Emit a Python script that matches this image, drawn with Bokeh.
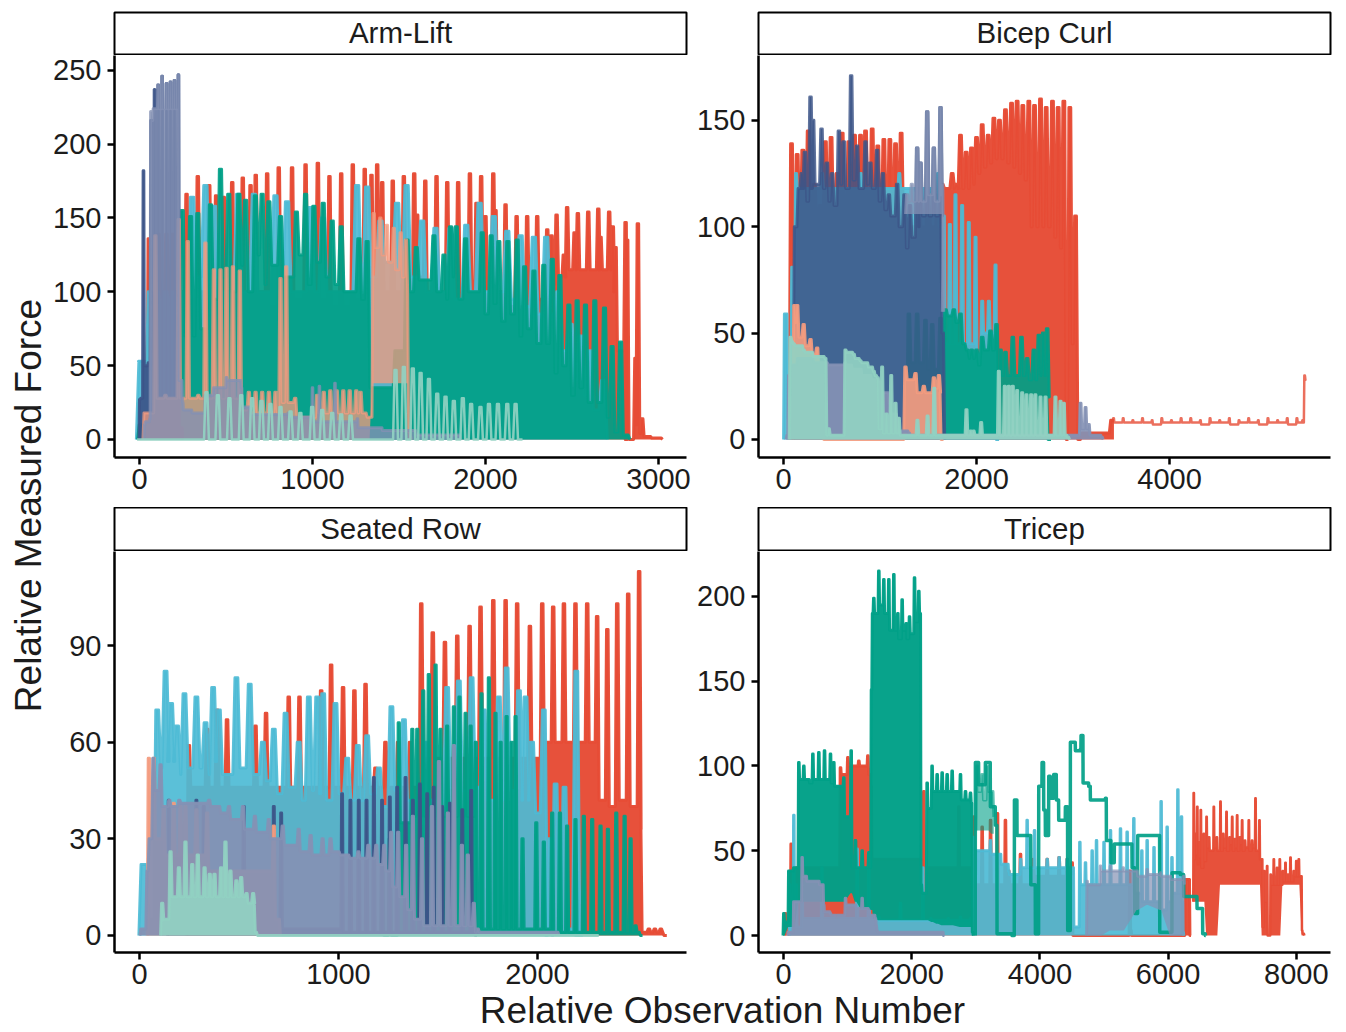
from math import pi
from bokeh.embed import file_html
from bokeh.resources import INLINE
from bokeh.plotting import figure
from bokeh.layouts import row, column
from bokeh.models import Range1d, FixedTicker
from bokeh.core.properties import value

RED, CYAN, GREEN, NAVY, SALMON, LAV, MINT = "#E64B35", "#4DBBD5", "#00A087", "#3C5488", "#F39B7F", "#8491B4", "#91D1C2"
ALPHA = 0.92
RED_ALPHA = 0.97
FONT = "Liberation Sans"
INK = "#1c1c1c"

panel_titles = ["Arm-Lift", "Bicep Curl", "Seated Row", "Tricep"]
x_title = "Relative Observation Number"
y_title = "Relative Measured Force"

# ---------------- Arm-Lift
arm_red_x = [54,110,156,190,272,337,403,443,487,536,597,642,672,738,805,882,960,1031,1098,1166,1233,1302,1341,1374,1403,1464,1528,1588,1605,1652,1717,1779,1842,1910,1948,1975,2000,2045,2058,2116,2180,2241,2299,2357,2382,2411,2453,2472,2515,2534,2594,2652,2665,2715,2736,2752,2810,2819,2867,2881,2906,2950,3012]
arm_red_tip = [136,139,139,139,166,178,172,165,164,174,177,172,179,180,184,184,186,187,178,180,186,183,179,186,174,175,178,180,152,175,178,174,174,180,160,178,151,180,155,159,151,151,151,142,138,152,125,157,140,153,154,156,137,154,144,130,147,135,55,146,14,2,1]
arm_red_floor = [60,100,100,100,95,100,100,95,100,95,100,95,100,90,100,95,100,95,90,90,95,100,95,95,100,100,100,100,110,100,100,95,100,100,110,100,100,110,100,90,90,95,95,105,105,110,110,115,115,115,115,115,115,115,100,60,0,0,10,4,2,1,0]
arm_cyan_x = [6,18,60,100,150,195,235,304,381,430,570,661,786,853,988,1060,1258,1316,1393,1489,1544,1634,1711,1798,1889,1966,2048,2126,2203,2280,2351,2420,2492,2549,2600,2680]
arm_cyan_tip = [53,53,100,100,100,100,100,164,172,158,166,166,165,161,157,150,172,171,148,160,172,148,143,143,145,160,151,141,138,137,137,100,78,70,60,40]
arm_cyan_floor = [53,20,85,85,85,85,60,110,100,100,100,100,100,100,100,100,100,110,120,110,110,100,100,95,100,100,100,95,90,85,85,60,40,30,20,0]
arm_green_x = [5,15,247,295,337,410,468,516,574,613,670,709,748,815,907,960,1008,1062,1114,1166,1268,1316,1400,1460,1547,1600,1702,1760,1798,1831,1885,1981,2033,2077,2129,2183,2226,2280,2337,2386,2430,2482,2530,2578,2632,2688,2732,2781,2819]
arm_green_tip = [10,4,155,151,153,159,183,166,166,162,165,166,161,151,154,166,158,160,148,144,136,134,35,35,135,130,138,125,144,144,136,140,138,134,134,135,117,114,118,122,111,91,94,91,94,89,63,66,3]
arm_green_floor = [4,4,70,70,75,95,110,100,118,100,125,105,118,110,125,105,120,110,105,100,95,35,35,60,100,108,100,95,110,95,100,85,92,80,85,70,75,65,65,45,50,30,35,25,25,15,5,3,0]
arm_navy_x = [2,23,45,67,87,108,131,156,179,202,225,245]
arm_navy_tip = [27,182,50,216,237,240,246,241,242,243,247,8]
arm_navy_floor = [28,50,52,10,10,10,10,10,10,10,8,0]
arm_salmon_x = [30,92,150,227,279,340,381,430,468,503,540,580,632,671,709,748,786,815,848,900,1027,1065,1103,1140,1178,1215,1253,1278,1320,1354,1392,1430,1470,1510,1540,1560]
arm_salmon_tip = [18,138,30,149,134,30,133,115,115,116,117,114,32,32,32,32,32,109,117,28,30,32,33,33,33,33,33,32,15,153,150,145,143,140,135,5]
arm_salmon_floor = [18,28,28,28,28,28,28,28,28,28,28,20,18,18,18,18,18,25,25,15,18,18,18,18,18,18,18,18,15,130,125,120,115,110,100,0]
arm_salmon_base = [0,0,0,0,0,0,0,0,0,0,0,0,0,0,0,0,0,0,0,0,0,0,0,0,0,0,0,0,0,38,38,38,38,38,38,0]
arm_lav_x = [30,60,75,108,131,156,179,202,225,250,300,381,430,503,590,640,790,860,1000,1040,1130,1260,1400,1600,1850]
arm_lav_tip = [10,14,216,240,246,241,242,243,247,25,20,30,35,42,35,20,17,18,35,36,38,14,8,4,3]
arm_lav_floor = [12,222,224,224,224,224,224,224,40,20,18,30,35,40,22,17,17,15,12,12,12,8,6,3,0]
arm_mint_x = [0,387,453,520,588,651,705,757,815,873,930,998,1056,1114,1166,1220,1480,1528,1580,1625,1673,1721,1769,1817,1869,1917,1971,2020,2072,2126,2174,2200]
arm_mint_tip = [0,32,30,28,30,28,26,24,22,19,18,22,20,18,17,16,47,49,48,45,41,31,29,26,28,24,22,24,24,24,24,0]
arm_mint_floor = [0,0,0,0,0,0,0,0,0,0,0,0,0,0,0,0,0,0,0,0,0,0,0,0,0,0,0,0,0,0,0,0]

# ---------------- Bicep Curl
bic_red_x = [83,142,200,256,320,380,434,493,556,608,677,736,798,850,919,977,1040,1102,1161,1219,1280,1400,1500,1600,1644,1696,1748,1793,1834,1893,1948,2000,2059,2121,2180,2238,2300,2363,2421,2480,2542,2601,2663,2722,2787,2846,2905,2967,3026,3100,3300,3400]
bic_red_tip = [139,134,136,145,120,110,140,142,125,144,140,143,143,145,146,138,141,141,139,144,115,115,115,115,120,118,125,120,143,135,137,142,148,143,151,150,155,158,159,157,159,157,160,156,159,156,159,156,105,3,3,9]
bic_red_floor = [80,100,100,100,100,100,100,100,100,100,100,100,100,100,100,100,100,100,100,100,100,100,100,118,118,118,118,118,118,118,120,125,128,130,132,132,130,128,125,122,100,100,100,100,95,90,0,45,0,3,3,9]
bic_tail_x = [3420,3520,3620,3720,3820,3920,4020,4120,4220,4320,4420,4520,4620,4720,4820,4920,5020,5120,5220,5320,5380,5400,5410]
bic_tail_tip = [10,10,9,10,9,10,9,10,10,9,10,9,10,9,10,9,10,9,10,10,9,30,28]
bic_tail_floor = [8,8,8,8,7,8,8,8,8,7,8,8,7,8,8,7,8,8,7,8,8,28,28]
bic_cyan_x = [15,30,90,130,400,800,1200,1600,1661,1724,1782,1851,1920,1990,2059,2128,2197,2220]
bic_cyan_tip = [59,59,81,125,125,125,125,125,105,101,115,110,102,95,65,65,82,0]
bic_cyan_floor = [59,10,60,118,118,118,118,100,45,45,45,45,45,40,50,50,0,0]
bic_green_x = [1299,1385,1471,1541,1627,1679,1765,1834,1903,1950,2000,2059,2145,2207,2249,2300,2376,2466,2525,2594,2646,2691,2732,2750]
bic_green_tip = [59,59,56,54,57,61,61,59,42,42,42,48,51,54,42,41,48,48,38,42,49,50,52,0]
bic_green_floor = [36,36,33,33,40,58,55,45,38,38,35,42,42,25,30,30,30,30,28,28,30,30,20,0]
bic_navy_x = [120,159,190,222,280,307,394,450,504,574,625,701,763,850,900,971,1030,1092,1178,1254,1310,1385,1420,1489,1558,1627,1650]
bic_navy_tip = [100,118,125,135,161,150,146,130,125,145,140,171,138,140,130,136,125,115,120,115,110,137,130,154,137,156,50]
bic_navy_floor = [100,118,118,112,118,120,118,112,110,120,118,122,118,120,118,112,108,105,100,90,95,100,105,105,105,105,0]
bic_salmon_x = [113,142,209,280,349,400,1264,1368,1454,1558,1610,1640]
bic_salmon_tip = [63,63,54,47,43,30,34,31,25,29,30,0]
bic_salmon_floor = [55,48,44,40,30,0,28,22,22,24,22,0]
bic_lav_x = [40,70,150,300,450,640,700,800,900,1000,1100,1180,1300,2000,3000,3078,3130,3164,3300]
bic_lav_tip = [2,30,38,38,36,36,35,33,30,27,17,10,3,2,2,17,15,7,1]
bic_lav_floor = [30,35,38,36,35,35,33,30,28,22,12,4,2,2,2,5,5,2,0]
bic_lav_high_x = [1280,1330,1385,1420,1489,1558,1627,1645]
bic_lav_high_tip = [115,120,137,130,154,137,156,120]
bic_lav_high_floor = [112,112,112,112,115,112,115,60]
bic_lav_high_base = [106,106,106,106,106,106,106,60]
bic_mint_x = [73,107,211,314,435,470,600,642,729,798,867,936,977,1022,1067,1116,1161,1195,1388,1493,1562,1896,1940,1970,2048,2231,2293,2335,2376,2421,2473,2518,2566,2610,2663,2715,2818,2870,2905,2950]
bic_mint_tip = [48,45,42,39,38,5,2,42,40,37,36,32,29,34,12,30,17,10,9,11,24,14,4,4,8,32,25,25,25,23,22,21,21,21,20,20,20,18,17,1]
bic_mint_floor = [46,44,41,39,2,2,2,41,38,36,34,30,5,3,3,3,3,2,2,2,2,2,2,2,2,2,2,2,2,2,2,2,2,2,2,2,2,2,2,0]

# ---------------- Seated Row
sea_red_x = [248,340,390,440,583,636,750,804,913,963,1023,1080,1136,1186,1236,1300,1360,1416,1474,1535,1597,1659,1714,1778,1840,1898,1962,2024,2079,2133,2191,2250,2300,2351,2401,2456,2511,2530,2560,2590,2620,2640]
sea_red_tip = [59,64,70,67,65,69,74,74,76,84,77,76,78,52,60,60,60,103,94,91,93,96,102,104,104,103,96,103,102,103,103,103,99,95,103,106,113,1,2,2,2,0]
sea_red_floor = [46,46,46,46,46,46,46,46,46,46,46,46,46,46,46,46,46,55,55,55,55,55,55,55,55,55,55,60,60,60,60,60,42,40,42,40,33,1,1,1,1,0]
sea_cyan_x = [15,30,89,131,159,189,226,286,332,370,399,487,554,620,675,734,800,851,893,923,985,1044,1097,1144,1203,1266,1329,1440,1546,1605,1669,1730,1806,1845,1907,1940,1973,2032,2060,2091,2136,2195,2210]
sea_cyan_tip = [22,22,70,82,72,65,75,74,66,77,70,80,78,60,64,69,60,74,74,75,72,55,59,62,52,71,67,60,77,79,80,70,74,83,76,74,60,70,30,47,46,82,0]
sea_cyan_floor = [22,5,52,54,54,50,52,52,50,54,50,52,50,48,44,46,42,45,44,42,44,42,42,44,40,45,42,42,46,45,46,42,42,45,42,42,38,0,0,2,2,0,0]
sea_green_x = [1220,1258,1303,1371,1396,1426,1454,1488,1513,1546,1580,1608,1639,1664,1690,1719,1756,1789,1815,1845,1870,1890,1925,1994,2032,2074,2113,2149,2191,2233,2275,2317,2354,2396,2438,2468,2493,2520]
sea_green_tip = [25,30,66,64,64,76,81,84,64,65,71,74,69,65,60,75,80,69,60,68,60,68,30,35,29,38,38,34,36,37,36,34,33,38,37,30,3,0]
sea_green_floor = [0,0,35,37,37,37,37,37,37,37,37,37,37,37,2,2,2,2,2,2,2,2,2,2,2,1,1,1,1,1,1,1,1,1,1,1,1,0]
sea_navy_x = [147,286,323,524,675,712,1018,1060,1102,1141,1178,1219,1258,1295,1337,1374,1409,1446,1479,1521,1560,1622,1667,1690]
sea_navy_tip = [42,42,40,40,40,38,44,42,42,42,49,42,43,46,49,42,47,44,46,40,41,39,45,0]
sea_navy_floor = [2,2,2,2,2,2,1,1,1,1,1,1,1,1,1,1,1,1,1,1,1,1,1,0]
sea_salmon_x = [47,72,122,172,206,231,286,340,675,700]
sea_salmon_tip = [55,55,40,41,40,40,39,38,34,5]
sea_salmon_floor = [30,30,25,25,25,25,25,20,5,0]
sea_lav_x = [10,40,70,106,150,200,280,350,400,450,520,580,650,720,800,860,920,960,1000,1060,1100,1150,1190,1230,1265,1300,1340,1374,1420,1470,1505,1550,1580,1620,1650,1680,1700,2100]
sea_lav_tip = [2,20,55,53,42,42,41,42,40,40,40,37,36,34,33,31,30,30,26,24,26,28,28,28,32,32,28,37,30,40,54,38,59,28,25,10,2,1]
sea_lav_floor = [2,30,45,40,40,41,41,40,38,36,33,32,30,28,26,25,25,26,25,24,24,24,22,20,15,12,8,5,3,3,3,3,3,3,3,1,1,0]
sea_mint_x = [114,156,198,231,265,293,327,353,377,410,432,457,487,511,538,571,585,2300]
sea_mint_tip = [10,26,21,29,22,25,21,19,19,21,29,20,17,18,13,13,1,0]
sea_mint_floor = [5,12,12,12,12,12,12,12,12,12,12,12,12,12,10,10,0,0]

# ---------------- Tricep
tri_red_x = [31,120,889,1004,1175,1316,1368,2189,2735,2969,3099,3230,3338,3462,3515,3697,3900,4114,4300,4425,4503,5403,5420,6271,6323,6345]
tri_red_tip = [13,54,99,105,103,106,88,85,76,70,64,68,72,68,38,48,45,45,46,45,43,38,3,33,33,0]
tri_red_floor = [10,40,95,100,100,95,45,40,40,30,30,30,30,30,30,30,35,35,35,35,0,38,0,33,33,0]
tri_tail_x = [6400,6427,6455,6479,6510,6557,6600,6640,6713,6760,6817,6860,6911,6960,7000,7040,7077,7120,7155,7200,7259,7310,7363,7425,7467,7500,7545,7600,7649,7700,7742,7790,7831,7870,7909,7960,8000,8039,8091,8117]
tri_tail_tip = [84,60,76,55,74,60,70,58,76,58,79,60,73,58,70,57,71,58,68,56,68,56,81,68,45,38,41,36,45,40,45,38,43,36,46,38,44,45,3,1]
tri_tail_floor = [45,48,42,46,40,44,52,50,52,50,50,52,50,54,50,52,50,54,50,52,50,52,50,45,5,20,0,30,30,30,30,32,32,32,32,35,35,35,1,0]
tri_tail_base = [20,20,20,20,20,20,0,0,0,0,30,30,30,30,30,30,30,30,30,30,30,30,30,30,0,0,0,0,0,0,0,30,30,30,30,30,30,30,0,0]
tri_cyan_x = [100,161,200,290,600,1149,1331,1487,1825,2174,2300,2570,2761,2917,2969,3229,3385,3515,3700,3801,3916,4114,4300,4425,4520,4623,4711,4815,4883,5000,5101,5257,5361,5465,5590,5673,5780,5891,5985,6060,6152,6209,6235]
tri_cyan_tip = [30,71,30,30,40,51,49,11,19,40,10,10,11,10,58,56,48,38,45,68,62,45,46,45,40,55,43,50,56,55,62,63,61,69,50,56,52,79,64,46,86,70,2]
tri_cyan_floor = [5,5,5,10,10,10,10,9,9,9,9,9,9,9,50,48,42,36,40,40,40,40,40,40,5,30,30,30,30,30,30,30,30,25,20,20,20,15,20,25,25,20,0]
tri_green_x = [5,83,161,239,317,395,458,551,640,733,785,941,1056,1123,1227,1331,1373,1409,1487,1565,1643,1721,1784,1851,1914,1966,2044,2111,2150,2241,2318,2397,2475,2553,2631,2761,2839,2917,2950]
tri_green_tip = [13,38,40,102,100,92,107,108,109,107,102,93,109,56,50,49,145,199,215,210,210,213,190,198,184,188,211,203,30,90,100,95,96,95,97,95,85,84,2]
tri_green_floor = [8,38,40,92,92,90,92,92,92,90,88,70,40,40,40,40,190,190,195,190,180,180,175,180,175,178,185,190,25,75,85,85,85,85,85,80,80,78,0]
tri_green_base = [0,5,5,20,20,20,20,20,20,20,20,20,25,20,15,15,15,10,9,9,9,9,9,9,9,9,9,9,9,9,8,7,6,6,6,5,5,5,0]
tri_step_x = [2995,3047,3151,3229,3307,3333,3567,3604,3645,3801,3860,3931,3983,4035,4061,4087,4139,4165,4217,4259,4295,4399,4435,4477,4555,4633,4643,4675,4763,4789,5023,5039,5111,5163,5413,5439,5481,5527,5829,5871,6011,6063,6193,6245,6375,6453,6505,6541,6583]
tri_step_y = [102,89,102,76,65,1,0,80,59,59,30,1,88,102,74,59,94,81,95,80,68,76,3,114,109,110,118,90,88,80,81,56,43,54,54,40,13,59,59,2,2,37,36,23,23,16,16,1,0]
tri_patch_x = [3020,3100,3180,3260]
tri_patch_tip = [100,95,100,85]
tri_patch_floor = [85,80,85,70]
tri_patch_base = [62,62,62,60]
tri_lav_x = [75,161,291,369,551,629,733,830,967,1123,1227,1331,1435,1461,2449,2500]
tri_lav_tip = [2,20,46,32,32,18,13,11,22,18,22,15,10,3,2,0]
tri_lav_floor = [2,20,35,32,30,14,12,12,18,16,16,12,6,2,2,0]
tri_lav_high_x = [4737,4945,5100,5300,5517,5673,5881,6037,6245]
tri_lav_high_tip = [32,41,41,40,38,39,37,35,35]
tri_lav_high_floor = [30,38,38,38,35,36,35,33,30]
tri_lav_high_base = [0,0,3,3,15,18,15,0,0]


def trace(p, color, x, tip, floor, base=None, d=8, fill=True, width=3.0, alpha=ALPHA):
    xs, ys, bs = [], [], []
    prev = base[0] if base else 0
    for i, (a, t, f) in enumerate(zip(x, tip, floor, strict=True)):
        xs += [a - d, a - 0.4 * d, a + 0.4 * d, a + d]
        ys += [prev, t, t, f]
        bs += [base[i] if base else 0] * 4
        prev = f
    if fill:
        p.varea(x=xs, y1=bs, y2=ys, fill_color=color, fill_alpha=alpha)
    p.line(xs, ys, line_color=color, line_width=width, line_alpha=alpha, line_join="round")


def panel(xr, yr, xt, yt, left, right, fh, bottom):
    p = figure(x_range=Range1d(*xr), y_range=Range1d(*yr), frame_width=572, frame_height=fh,
               min_border_left=left, min_border_right=right, min_border_top=0, min_border_bottom=bottom,
               toolbar_location=None, output_backend="svg", background_fill_color="white")
    p.outline_line_color = None
    p.grid.visible = False
    p.xaxis.ticker = FixedTicker(ticks=xt)
    p.yaxis.ticker = FixedTicker(ticks=yt)
    for ax in (p.xaxis[0], p.yaxis[0]):
        ax.axis_line_color = "black"
        ax.axis_line_width = 2.5
        ax.major_tick_line_color = "black"
        ax.major_tick_line_width = 2.5
        ax.major_tick_out = 7
        ax.major_tick_in = 0
        ax.minor_tick_line_color = None
        ax.major_label_text_font = FONT
        ax.major_label_text_font_size = "29px"
        ax.major_label_text_color = INK
        ax.major_label_standoff = 4
    p.yaxis[0].major_label_standoff = 6
    return p


def strip(title, left, right, fh, top):
    s = figure(x_range=Range1d(0, 1), y_range=Range1d(0, 1), frame_width=572, frame_height=fh,
               min_border_left=left, min_border_right=right, min_border_top=top, min_border_bottom=0,
               x_axis_location=None, y_axis_location=None, toolbar_location=None, output_backend="svg")
    s.grid.visible = False
    s.outline_line_color = "black"
    s.outline_line_width = 2
    s.text(x=[0.5], y=[0.53], text=[title], text_align="center", text_baseline="middle",
           text_font=value(FONT), text_font_size="29.5px", text_color=INK)
    return s


LL, LR, RL, RR = 66, 6, 66, 16

p1 = panel((-144.5, 3162), (-12.2, 260), [0, 1000, 2000, 3000], [0, 50, 100, 150, 200, 250], LL, LR, 402, 50)
trace(p1, RED, arm_red_x, arm_red_tip, arm_red_floor, d=11, alpha=RED_ALPHA)
trace(p1, CYAN, arm_cyan_x, arm_cyan_tip, arm_cyan_floor, d=24)
trace(p1, GREEN, arm_green_x, arm_green_tip, arm_green_floor, d=16)
trace(p1, NAVY, arm_navy_x, arm_navy_tip, arm_navy_floor, d=5)
trace(p1, SALMON, arm_salmon_x, arm_salmon_tip, arm_salmon_floor, base=arm_salmon_base, d=10, alpha=0.75)
trace(p1, LAV, arm_lav_x, arm_lav_tip, arm_lav_floor, d=4, alpha=0.78)
trace(p1, MINT, arm_mint_x, arm_mint_tip, arm_mint_floor, d=14, fill=False, width=2.5)

p2 = panel((-259, 5668), (-8.5, 180.5), [0, 2000, 4000], [0, 50, 100, 150], RL, RR, 402, 50)
trace(p2, RED, bic_red_x, bic_red_tip, bic_red_floor, d=24, alpha=RED_ALPHA)
trace(p2, RED, bic_tail_x, bic_tail_tip, bic_tail_floor, base=bic_tail_floor, d=8, fill=False, width=2.5, alpha=0.8)
trace(p2, CYAN, bic_cyan_x, bic_cyan_tip, bic_cyan_floor, d=14)
trace(p2, GREEN, bic_green_x, bic_green_tip, bic_green_floor, d=22)
trace(p2, NAVY, bic_navy_x, bic_navy_tip, bic_navy_floor, d=20, alpha=0.82)
trace(p2, SALMON, bic_salmon_x, bic_salmon_tip, bic_salmon_floor, d=18)
trace(p2, LAV, bic_lav_x, bic_lav_tip, bic_lav_floor, d=12)
trace(p2, LAV, bic_lav_high_x, bic_lav_high_tip, bic_lav_high_floor, base=bic_lav_high_base, d=15, alpha=0.75)
trace(p2, MINT, bic_mint_x, bic_mint_tip, bic_mint_floor, d=14)

p3 = panel((-125.6, 2749), (-5.3, 119.2), [0, 1000, 2000], [0, 30, 60, 90], LL, LR, 401, 38)
trace(p3, RED, sea_red_x, sea_red_tip, sea_red_floor, d=10, alpha=RED_ALPHA)
trace(p3, CYAN, sea_cyan_x, sea_cyan_tip, sea_cyan_floor, d=18)
trace(p3, GREEN, sea_green_x, sea_green_tip, sea_green_floor, d=8)
trace(p3, NAVY, sea_navy_x, sea_navy_tip, sea_navy_floor, d=6)
trace(p3, SALMON, sea_salmon_x, sea_salmon_tip, sea_salmon_floor, d=8)
trace(p3, LAV, sea_lav_x, sea_lav_tip, sea_lav_floor, d=8)
trace(p3, MINT, sea_mint_x, sea_mint_tip, sea_mint_floor, d=8)

p4 = panel((-390, 8533), (-10, 226.5), [0, 2000, 4000, 6000, 8000], [0, 50, 100, 150, 200], RL, RR, 401, 38)
trace(p4, RED, tri_red_x, tri_red_tip, tri_red_floor, d=12, alpha=RED_ALPHA)
trace(p4, RED, tri_tail_x, tri_tail_tip, tri_tail_floor, base=tri_tail_base, d=8, width=2.5, alpha=RED_ALPHA)
trace(p4, CYAN, tri_cyan_x, tri_cyan_tip, tri_cyan_floor, d=10)
trace(p4, GREEN, tri_green_x, tri_green_tip, tri_green_floor, base=tri_green_base, d=12, alpha=0.97)
trace(p4, GREEN, tri_patch_x, tri_patch_tip, tri_patch_floor, base=tri_patch_base, d=20, alpha=0.6)
trace(p4, GREEN, tri_step_x, tri_step_y, tri_step_y, d=4, fill=False, width=3.5)
trace(p4, LAV, tri_lav_x, tri_lav_tip, tri_lav_floor, d=10)
trace(p4, LAV, tri_lav_high_x, tri_lav_high_tip, tri_lav_high_floor, base=tri_lav_high_base, d=10, alpha=0.7)

s1 = strip(panel_titles[0], LL, LR, 43, 12)
s2 = strip(panel_titles[1], RL, RR, 43, 12)
s3 = strip(panel_titles[2], LL, LR, 44, 0)
s4 = strip(panel_titles[3], RL, RR, 44, 0)

ylab = figure(x_range=Range1d(0, 48), y_range=Range1d(1032, 0), width=48, height=1032, min_border=0,
              x_axis_location=None, y_axis_location=None, toolbar_location=None, output_backend="svg")
ylab.grid.visible = False
ylab.outline_line_color = None
ylab.text(x=[28], y=[505], text=[y_title], angle=pi / 2, text_align="center", text_baseline="middle",
          text_font=value(FONT), text_font_size="37px", text_color=INK)

xlab = figure(x_range=Range1d(0, 1298), y_range=Range1d(42, 0), width=1298, height=42, min_border=0,
              x_axis_location=None, y_axis_location=None, toolbar_location=None, output_backend="svg")
xlab.grid.visible = False
xlab.outline_line_color = None
xlab.text(x=[674], y=[20], text=[x_title], text_align="center", text_baseline="middle",
          text_font=value(FONT), text_font_size="37px", text_color=INK)

page = row(ylab, column(row(s1, s2), row(p1, p2), row(s3, s4), row(p3, p4), xlab))
open("out.html", "w").write(file_html(page, INLINE))
